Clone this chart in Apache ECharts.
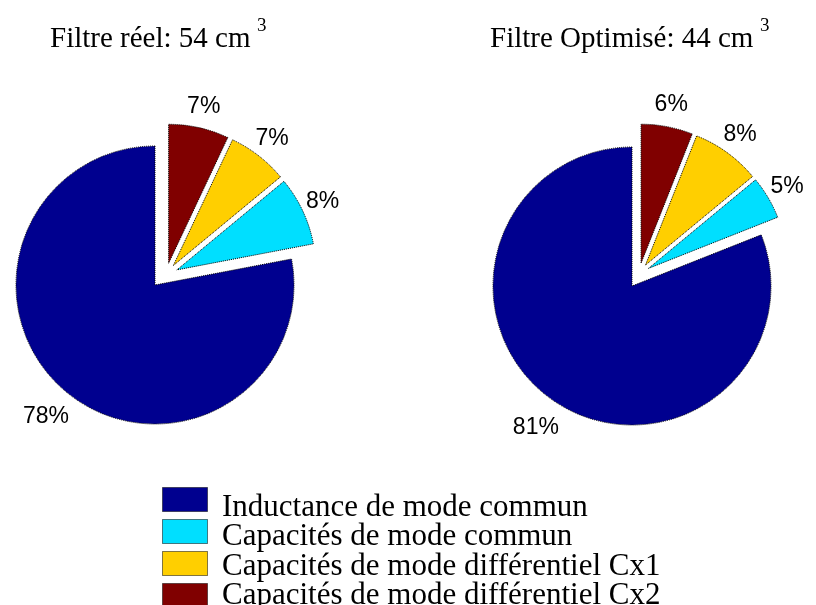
<!DOCTYPE html>
<html>
<head>
<meta charset="utf-8">
<script src="https://cdn.jsdelivr.net/npm/echarts@6/dist/echarts.min.js"></script>
<style>html,body{margin:0;padding:0;background:#fff}#c{width:816px;height:605px}</style>
</head>
<body>
<div id="c"></div>
<script>
// ---- data ----
const categories = ['Inductance de mode commun', 'Capacités de mode commun', 'Capacités de mode différentiel Cx1', 'Capacités de mode différentiel Cx2'];
const colors = ['#00008F', '#00DFFF', '#FFCF00', '#800000'];
const realValues = [78, 8, 7, 7];
const optValues = [81, 5, 8, 6];
const titleTexts = ['Filtre réel: 54 cm', 'Filtre Optimisé: 44 cm'];
const exponentText = '3';

// ---- layout ----
const R = 139;
const pies = [
  { values: realValues, base: [155, 285], exploded: [166, 275], offset: 12 },
  { values: optValues, base: [632, 286], exploded: [639, 274], offset: 11 }
];
const hidden = { color: 'rgba(0,0,0,0)', borderWidth: 0 };
const border = { borderColor: '#000', borderWidth: 1, borderType: 'dotted' };
const labelStyle = { fontFamily: 'Liberation Sans', fontSize: 23, color: '#000' };

function common() {
  return { type: 'pie', startAngle: 90, clockwise: false, animation: false, silent: true,
    emphasis: { disabled: true }, avoidLabelOverlap: false, minAngle: 0, labelLine: { show: false } };
}

const series = [];
pies.forEach(p => {
  // main (non-exploded) slice
  series.push(Object.assign(common(), {
    center: p.base, radius: R,
    label: { show: false },
    data: p.values.map((v, i) => ({ name: categories[i], value: v,
      itemStyle: i === 0 ? Object.assign({ color: colors[i] }, border) : hidden }))
  }));
  // exploded slices
  series.push(Object.assign(common(), {
    center: p.exploded, radius: R, selectedMode: 'multiple', selectedOffset: p.offset,
    label: { show: false },
    data: p.values.map((v, i) => ({ name: categories[i], value: v, selected: i > 0,
      itemStyle: i > 0 ? Object.assign({ color: colors[i] }, border) : hidden }))
  }));
  // labels of exploded slices (invisible ring)
  series.push(Object.assign(common(), {
    center: p.exploded, radius: [R + 11, R + 27], selectedMode: 'multiple', selectedOffset: p.offset,
    label: Object.assign({ position: 'inside', formatter: '{c}%' }, labelStyle),
    data: p.values.map((v, i) => ({ name: categories[i], value: v, selected: i > 0,
      itemStyle: hidden, label: { show: i > 0 } }))
  }));
  // label of main slice
  series.push(Object.assign(common(), {
    center: p.base, radius: [R + 21, R + 37],
    label: Object.assign({ position: 'inside', formatter: '{c}%' }, labelStyle),
    data: p.values.map((v, i) => ({ name: categories[i], value: v,
      itemStyle: hidden, label: { show: i === 0 } }))
  }));
});

const titleFont = { fontFamily: 'Liberation Serif', fontWeight: 'normal', fontSize: 29, color: '#000' };
const expFont = { fontFamily: 'Liberation Serif', fontWeight: 'normal', fontSize: 19, color: '#000' };

const option = {
  backgroundColor: '#fff',
  animation: false,
  title: [
    { text: titleTexts[0], left: 45, top: 20, textStyle: titleFont },
    { text: exponentText, left: 252, top: 12, textStyle: expFont },
    { text: titleTexts[1], left: 485, top: 20, textStyle: titleFont },
    { text: exponentText, left: 755, top: 12, textStyle: expFont }
  ],
  legend: [
    { // colour boxes
      orient: 'vertical', left: 162, top: 487, height: 200, padding: 0,
      itemWidth: 45, itemHeight: 24, itemGap: 7,
      icon: 'rect', selectedMode: false, formatter: () => '',
      data: categories.map((n, i) => ({ name: n, itemStyle: Object.assign({ color: colors[i] }, border) })),
      textStyle: { fontSize: 4, padding: 0 }
    },
    { // legend texts
      orient: 'vertical', left: 216, top: 492, height: 200, padding: 0,
      itemWidth: 1, itemHeight: 1, itemGap: -1.5,
      icon: 'rect', selectedMode: false,
      data: categories.map(n => ({ name: n, itemStyle: { color: 'rgba(0,0,0,0)', borderWidth: 0 } })),
      textStyle: { fontFamily: 'Liberation Serif', fontSize: 31, color: '#000', padding: 0 }
    }
  ],
  series: series
};

const chart = echarts.init(document.getElementById('c'), null, { renderer: 'canvas' });
chart.setOption(option);
</script>
</body>
</html>
